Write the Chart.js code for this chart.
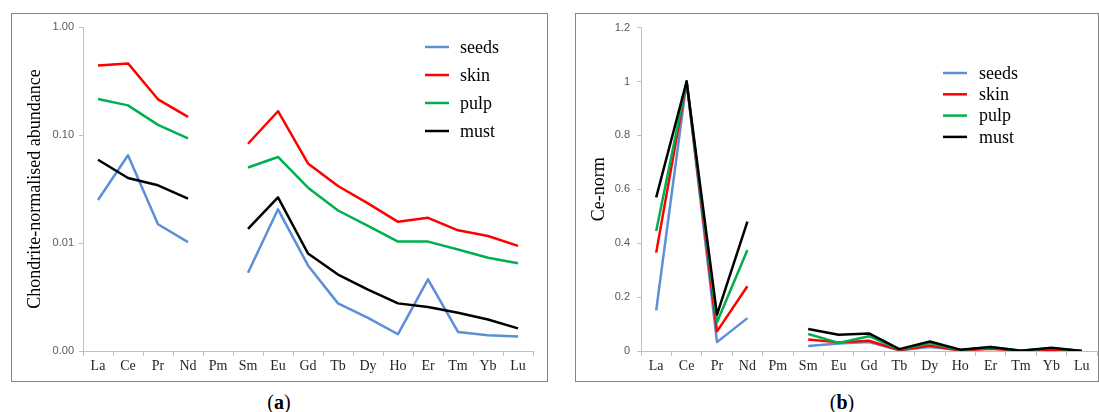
<!DOCTYPE html>
<html>
<head>
<meta charset="utf-8">
<script src="https://cdn.jsdelivr.net/npm/chart.js@4/dist/chart.umd.min.js"></script>
<style>
  body { margin: 0; background: #fff; width: 1099px; height: 412px; overflow: hidden; position: relative; }
  .panel { position: absolute; top: 13px; height: 369px; box-sizing: border-box; border: 1px solid #858585; }
  .panel canvas { position: absolute; left: 0; top: 0; }
  .cap { position: absolute; top: 391px; font-family: "Liberation Serif", serif; font-size: 20px; color: #000; transform: translateX(-50%); }
</style>
</head>
<body>
<div class="panel" style="left:11px;width:537px"><canvas id="chartA" width="535" height="367"></canvas></div>
<div class="panel" style="left:575px;width:524px"><canvas id="chartB" width="522" height="367"></canvas></div>
<div class="cap" style="left:279px">(<b>a</b>)</div>
<div class="cap" style="left:842px">(<b>b</b>)</div>
<script>
const elements = ["La", "Ce", "Pr", "Nd", "Pm", "Sm", "Eu", "Gd", "Tb", "Dy", "Ho", "Er", "Tm", "Yb", "Lu"];
const seriesNames = ["seeds", "skin", "pulp", "must"];
const seriesColors = ["#5b8fd8", "#ff0000", "#00b050", "#000000"];

// (a) chondrite-normalised abundance
const seedsChondrite = [0.025, 0.065, 0.0149, 0.0102, null, 0.0053, 0.0205, 0.0062, 0.00276, 0.00203, 0.00143, 0.0046, 0.0015, 0.0014, 0.00136];
const skinChondrite = [0.44, 0.46, 0.214, 0.147, null, 0.083, 0.166, 0.0546, 0.0337, 0.0233, 0.0157, 0.0171, 0.0131, 0.0116, 0.0094];
const pulpChondrite = [0.215, 0.188, 0.124, 0.093, null, 0.05, 0.0626, 0.0325, 0.02, 0.0144, 0.0103, 0.0103, 0.0087, 0.0073, 0.0065];
const mustChondrite = [0.059, 0.04, 0.0342, 0.0257, null, 0.0135, 0.0265, 0.008, 0.0051, 0.0037, 0.00276, 0.00255, 0.00226, 0.00196, 0.00162];
const logTicks = [0.001, 0.01, 0.1, 1];

// (b) Ce-normalised
const seedsCe = [0.151, 1.0, 0.033, 0.122, null, 0.019, 0.028, 0.033, 0.003, 0.015, 0.003, 0.015, 0.001, 0.01, 0];
const skinCe = [0.365, 1.0, 0.073, 0.24, null, 0.043, 0.032, 0.038, 0.003, 0.02, 0.002, 0.008, 0.001, 0.005, 0];
const pulpCe = [0.445, 1.0, 0.107, 0.375, null, 0.063, 0.03, 0.055, 0.005, 0.03, 0.004, 0.012, 0.001, 0.01, 0];
const mustCe = [0.57, 1.0, 0.135, 0.48, null, 0.082, 0.06, 0.065, 0.007, 0.035, 0.005, 0.015, 0.001, 0.012, 0];

const axisGray = "#bfbfbf";
const tickFont = { family: "Liberation Sans", size: 11 };
const catFont = { family: "Liberation Serif", size: 14 };

function makeDatasets(lists) {
  return lists.map((vals, i) => ({
    label: seriesNames[i],
    data: vals,
    borderColor: seriesColors[i],
    backgroundColor: seriesColors[i],
    borderWidth: 2.5,
    borderJoinStyle: "round",
    pointRadius: 0,
    tension: 0,
    spanGaps: false,
    order: 3 - i,
  }));
}

// legend drawn inside the plot
const innerLegend = {
  id: "innerLegend",
  afterDraw(chart, args, opts) {
    const ctx = chart.ctx;
    ctx.save();
    ctx.font = opts.size + "px 'Liberation Serif'";
    ctx.textBaseline = "middle";
    ctx.textAlign = "left";
    chart.data.datasets.forEach((ds, i) => {
      const y = opts.y + i * opts.step;
      ctx.strokeStyle = ds.borderColor;
      ctx.lineWidth = 2.5;
      ctx.beginPath();
      ctx.moveTo(opts.x, y);
      ctx.lineTo(opts.x + opts.len, y);
      ctx.stroke();
      ctx.fillStyle = "#000";
      ctx.fillText(ds.label, opts.textX, y + 1);
    });
    ctx.restore();
  },
};

function xScale(height) {
  return {
    type: "category",
    offset: true,
    grid: { offset: true, drawOnChartArea: false, color: axisGray, tickLength: 5 },
    border: { color: axisGray },
    ticks: { font: catFont, color: "#262626", padding: 2, maxRotation: 0, autoSkip: false },
    afterFit(s) { s.height = height; },
  };
}

new Chart(document.getElementById("chartA"), {
  type: "line",
  data: { labels: elements, datasets: makeDatasets([seedsChondrite, skinChondrite, pulpChondrite, mustChondrite]) },
  plugins: [innerLegend],
  options: {
    responsive: false,
    animation: false,
    layout: { padding: { top: 13, right: 14, bottom: 0, left: 0 } },
    plugins: {
      legend: { display: false },
      tooltip: { enabled: false },
      innerLegend: { x: 413, len: 24, textX: 448, y: 33, step: 28, size: 18 },
    },
    scales: {
      x: xScale(30),
      y: {
        type: "logarithmic",
        min: 0.001,
        max: 1,
        afterBuildTicks(s) { s.ticks = logTicks.map((v) => ({ value: v })); },
        grid: { drawOnChartArea: false, color: axisGray, tickLength: 4 },
        border: { color: axisGray },
        ticks: { font: tickFont, color: "#595959", padding: 5, callback: (v) => Number(v).toFixed(2) },
        title: { display: true, text: "Chondrite-normalised abundance", font: { family: "Liberation Serif", size: 18 }, color: "#000", padding: { top: 12, bottom: 0 } },
        afterFit(s) { s.width = 71; },
      },
    },
  },
});

new Chart(document.getElementById("chartB"), {
  type: "line",
  data: { labels: elements, datasets: makeDatasets([seedsCe, skinCe, pulpCe, mustCe]) },
  plugins: [innerLegend],
  options: {
    responsive: false,
    animation: false,
    layout: { padding: { top: 13, right: 1, bottom: 0, left: 0 } },
    plugins: {
      legend: { display: false },
      tooltip: { enabled: false },
      innerLegend: { x: 367, len: 24, textX: 403, y: 59, step: 21.3, size: 18 },
    },
    scales: {
      x: xScale(30),
      y: {
        min: 0,
        max: 1.2,
        grid: { drawOnChartArea: false, color: axisGray, tickLength: 4 },
        border: { color: axisGray },
        ticks: { font: tickFont, color: "#595959", padding: 7, stepSize: 0.2, callback: (v) => String(Number(Number(v).toFixed(1))) },
        title: { display: true, text: "Ce-norm", font: { family: "Liberation Serif", size: 18 }, color: "#000", padding: { top: 12, bottom: 0 } },
        afterFit(s) { s.width = 65; },
      },
    },
  },
});
</script>
</body>
</html>
